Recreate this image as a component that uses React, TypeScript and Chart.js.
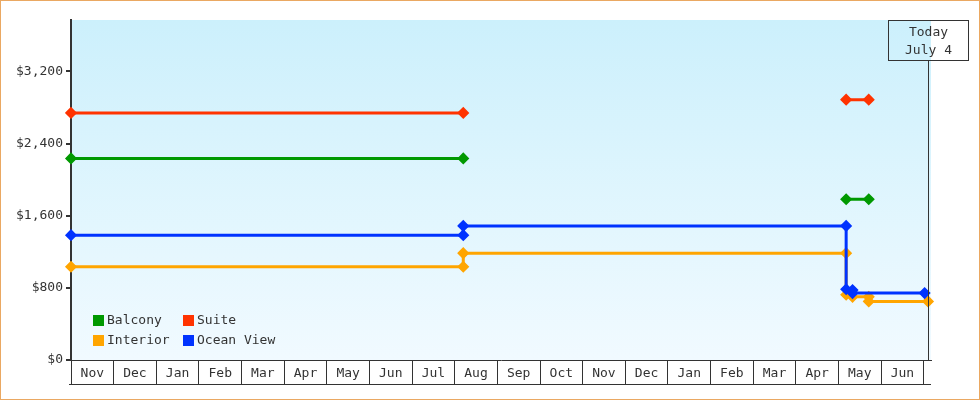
import { useEffect, useRef } from "react";
import { Chart, registerables } from "chart.js";
Chart.register(...registerables);

// month columns on the x axis; value i is the first day of that month (Nov = 0)
const months = ["Nov", "Dec", "Jan", "Feb", "Mar", "Apr", "May", "Jun", "Jul", "Aug",
  "Sep", "Oct", "Nov", "Dec", "Jan", "Feb", "Mar", "Apr", "May", "Jun"];
const yTicks = [0, 800, 1600, 2400, 3200];

// x in months since Nov 1 (9.2 ~ Aug 7, 18.18 ~ May 6, 20.1 ~ Jul 4), null = gap
const balconyX = [0, 9.2, 14, 18.18, 18.71];
const balconyY = [2235, 2235, null, 1782, 1782];
const suiteX = [0, 9.2, 14, 18.18, 18.71];
const suiteY = [2740, 2740, null, 2887, 2887];
const interiorX = [0, 9.2, 9.2, 18.18, 18.18, 18.33, 18.71, 18.71, 20.1];
const interiorY = [1034, 1034, 1185, 1185, 724, 700, 700, 650, 650];
const oceanX = [0, 9.2, 9.2, 18.18, 18.18, 18.33, 18.33, 20.02];
const oceanY = [1384, 1384, 1487, 1487, 785, 775, 742, 742];

const todayX = 20.1;
const todayText = ["Today", "July 4"];
const legendOrder = ["Balcony", "Suite", "Interior", "Ocean View"];

const FONT = "'DejaVu Sans Mono', monospace";
const INK = "#333";

const pts = (xs: number[], ys: (number | null)[]) => xs.map((x, i) => ({ x, y: ys[i] }));

const decor = {
  id: "decor",
  beforeDraw(chart: any) {
    const { ctx, chartArea: a } = chart;
    const g = ctx.createLinearGradient(0, a.top, 0, a.bottom);
    g.addColorStop(0, "#ccf0fc");
    g.addColorStop(1, "#f1faff");
    ctx.save();
    ctx.fillStyle = g;
    ctx.fillRect(a.left, a.top, a.right - a.left, a.bottom - a.top);
    ctx.restore();
  },
  afterDraw(chart: any) {
    const { ctx, chartArea: a, scales } = chart;
    ctx.save();
    // bottom edge of the month boxes
    ctx.strokeStyle = INK;
    ctx.lineWidth = 1;
    ctx.beginPath();
    ctx.moveTo(scales.x.left - 2, Math.round(scales.x.bottom) - 0.5);
    ctx.lineTo(scales.x.right, Math.round(scales.x.bottom) - 0.5);
    ctx.stroke();

    // today marker
    const tx = Math.round(scales.x.getPixelForValue(todayX)) + 0.5;
    const bw = 80, bh = 40, top = Math.round(a.top) + 0.5;
    ctx.strokeRect(tx - bw / 2, top, bw, bh);
    ctx.beginPath();
    ctx.moveTo(tx, top + bh);
    ctx.lineTo(tx, a.bottom);
    ctx.stroke();
    ctx.fillStyle = INK;
    ctx.font = `13px ${FONT}`;
    ctx.textAlign = "center";
    ctx.textBaseline = "middle";
    ctx.fillText(todayText[0], tx, top + 12);
    ctx.fillText(todayText[1], tx, top + 30);

    // legend, two columns inside the plot
    ctx.textAlign = "left";
    legendOrder.forEach((label, i) => {
      const ds = chart.data.datasets.find((d: any) => d.label === label);
      const col = i % 2, row = Math.floor(i / 2);
      const x = a.left + 22 + col * 90;
      const y = a.bottom - 45 + row * 20;
      ctx.fillStyle = ds.borderColor;
      ctx.fillRect(x, y, 11, 11);
      ctx.fillStyle = INK;
      ctx.fillText(label, x + 14, y + 6);
    });
    ctx.restore();
  },
};

export default function App() {
  const canvasRef = useRef<HTMLCanvasElement | null>(null);

  useEffect(() => {
    document.body.style.margin = "0";
    if (!canvasRef.current) return;
    Chart.defaults.font.family = FONT;
    Chart.defaults.font.size = 13;
    Chart.defaults.color = INK;

    const line = (label: string, xs: number[], ys: (number | null)[], color: string) => ({
      label,
      data: pts(xs, ys),
      borderColor: color,
      backgroundColor: color,
      borderWidth: 3,
      pointStyle: "rectRot" as const,
      pointRadius: 5,
      pointBorderWidth: 1.5,
      spanGaps: false,
      clip: false as const,
    });

    const chart = new Chart(canvasRef.current, {
      type: "line",
      data: {
        datasets: [
          line("Ocean View", oceanX, oceanY, "#0033ff"),
          line("Interior", interiorX, interiorY, "#ffa500"),
          line("Suite", suiteX, suiteY, "#ff3300"),
          line("Balcony", balconyX, balconyY, "#009900"),
        ],
      },
      options: {
        responsive: false,
        animation: false,
        layout: { padding: { left: 0, top: 19, right: 48, bottom: 14 } },
        plugins: { legend: { display: false }, tooltip: { enabled: false } },
        scales: {
          x: {
            type: "linear",
            min: 0,
            max: 20.17,
            afterBuildTicks: (s: any) => { s.ticks = [...months.map((_, i) => ({ value: i })), { value: months.length }]; },
            afterFit: (s: any) => { s.height = 25; },
            ticks: {
              autoSkip: false,
              maxRotation: 0,
              labelOffset: 21.3,
              padding: -19,
              callback: (_v: any, i: number) => months[i] ?? "",
            },
            grid: { drawOnChartArea: false, drawTicks: true, tickLength: 25, color: INK, lineWidth: 1 },
            border: { display: true, color: INK, width: 1 },
          },
          y: {
            type: "linear",
            min: 0,
            max: 3770,
            afterBuildTicks: (s: any) => { s.ticks = yTicks.map((v) => ({ value: v })); },
            afterFit: (s: any) => { s.width = 70; },
            ticks: { padding: 3, callback: (v: any) => "$" + Number(v).toLocaleString("en-US") },
            grid: { drawOnChartArea: false, drawTicks: true, tickLength: 5, color: INK, lineWidth: 2 },
            border: { display: true, color: INK, width: 2 },
          },
        },
      },
      plugins: [decor],
    });

    return () => chart.destroy();
  }, []);

  return (
    <div style={{ width: 980, height: 400, boxSizing: "border-box", border: "1px solid #eaa862", background: "#fff" }}>
      <canvas ref={canvasRef} width={978} height={398} />
    </div>
  );
}
